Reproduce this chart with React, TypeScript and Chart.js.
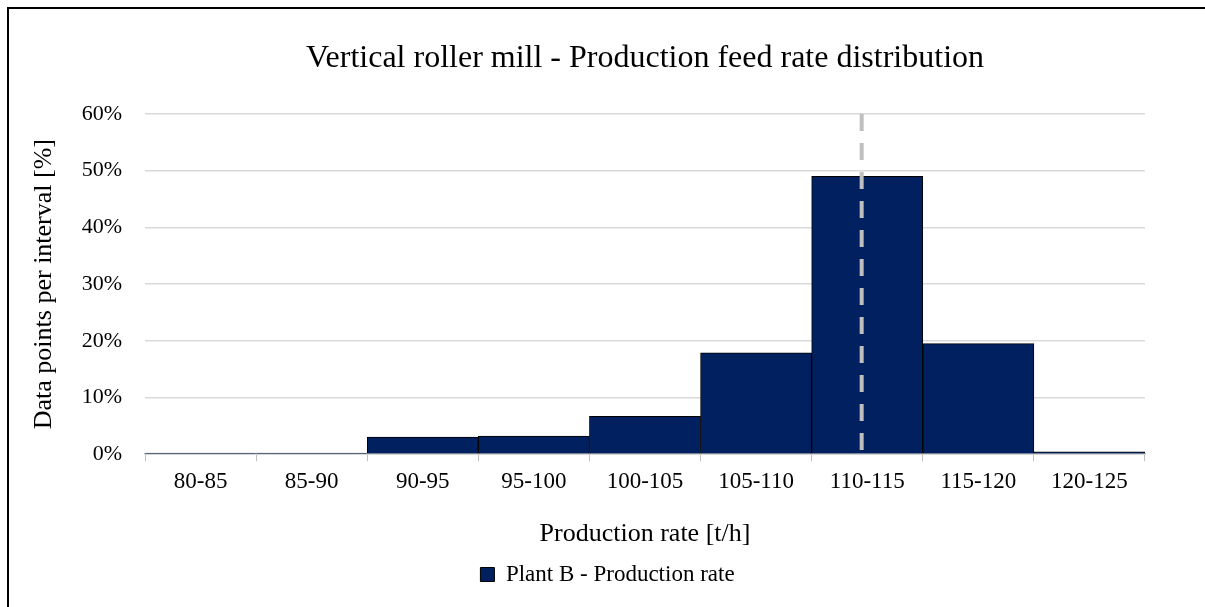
import { useEffect, useRef } from 'react';
import { Chart, registerables } from 'chart.js';

Chart.register(...registerables);

const categories = ['80-85', '85-90', '90-95', '95-100', '100-105', '105-110', '110-115', '115-120', '120-125'];
const shares = [0.2, 0.2, 3.0, 3.2, 6.7, 17.9, 49.0, 19.5, 0.4];
const meanRate = 112.25;
const binStart = 80;
const binWidth = 5;
const yMin = 0;
const yMax = 60;
const yStep = 10;

const SERIF = "'Liberation Serif', 'Times New Roman', serif";

export default function App() {
  const ref = useRef<HTMLCanvasElement>(null);

  useEffect(() => {
    if (!ref.current) return;

    const frame = {
      id: 'frame',
      beforeDraw(chart: any) {
        const { ctx } = chart;
        ctx.save();
        ctx.fillStyle = '#ffffff';
        ctx.fillRect(0, 0, chart.width, chart.height);
        ctx.strokeStyle = '#000000';
        ctx.lineWidth = 2;
        ctx.beginPath();
        ctx.moveTo(8, chart.height + 4);
        ctx.lineTo(8, 8);
        ctx.lineTo(chart.width + 4, 8);
        ctx.stroke();
        ctx.restore();
      },
    };

    const meanLine = {
      id: 'meanLine',
      afterDatasetsDraw(chart: any) {
        const { ctx, chartArea } = chart;
        const x = chart.scales.x.getPixelForValue((meanRate - binStart) / binWidth - 0.5);
        ctx.save();
        ctx.strokeStyle = '#bfbfbf';
        ctx.lineWidth = 4;
        ctx.setLineDash([17, 12]);
        ctx.beginPath();
        ctx.moveTo(x, chartArea.top);
        ctx.lineTo(x, chartArea.bottom);
        ctx.stroke();
        ctx.restore();
      },
    };

    const chart = new Chart(ref.current, {
      type: 'bar',
      data: {
        labels: categories,
        datasets: [
          {
            label: 'Plant B - Production rate',
            data: shares,
            backgroundColor: '#002060',
            borderColor: '#000000',
            borderWidth: 1,
            barPercentage: 1,
            categoryPercentage: 1,
          },
        ],
      },
      options: {
        responsive: false,
        animation: false,
        layout: { padding: { left: 10, right: 0, top: 0, bottom: 11 } },
        plugins: {
          title: {
            display: true,
            text: 'Vertical roller mill - Production feed rate distribution',
            color: '#000000',
            fullSize: false,
            font: { family: SERIF, size: 32, weight: 'normal' },
            padding: { top: 39, bottom: 36.6 },
          },
          legend: {
            display: true,
            position: 'bottom',
            labels: {
              color: '#000000',
              font: { family: SERIF, size: 23 },
              boxWidth: 14,
              boxHeight: 14,
              padding: 10,
            },
          },
          tooltip: { enabled: false },
        },
        scales: {
          x: {
            grid: {
              drawOnChartArea: false,
              color: '#bfbfbf',
              tickLength: 7,
              offset: true,
            },
            border: { color: '#bfbfbf', width: 1.5 },
            ticks: {
              color: '#000000',
              font: { family: SERIF, size: 23 },
              padding: 7,
              maxRotation: 0,
            },
            title: {
              display: true,
              text: 'Production rate [t/h]',
              color: '#000000',
              font: { family: SERIF, size: 26 },
              padding: { top: 16, bottom: 3 },
            },
          },
          y: {
            min: yMin,
            max: yMax,
            grid: { color: '#d9d9d9', drawTicks: false, lineWidth: 1.5 },
            border: { display: false },
            ticks: {
              stepSize: yStep,
              color: '#000000',
              font: { family: SERIF, size: 22 },
              padding: 23,
              callback: (v: any) => v + '%',
            },
            title: {
              display: true,
              text: 'Data points per interval [%]',
              color: '#000000',
              font: { family: SERIF, size: 26 },
              padding: { top: 19, bottom: 0 },
            },
            afterFit(s: any) {
              s.width = 135;
            },
          },
          yRight: {
            type: 'linear',
            position: 'right',
            display: true,
            grid: { display: false },
            border: { display: false },
            ticks: { display: false },
            afterFit(s: any) {
              s.width = 60;
            },
          },
        },
      },
      plugins: [frame, meanLine],
    });

    return () => chart.destroy();
  }, []);

  return (
    <div style={{ position: 'absolute', left: 0, top: 0, width: 1205, height: 607 }}>
      <canvas ref={ref} width={1205} height={607} />
    </div>
  );
}
